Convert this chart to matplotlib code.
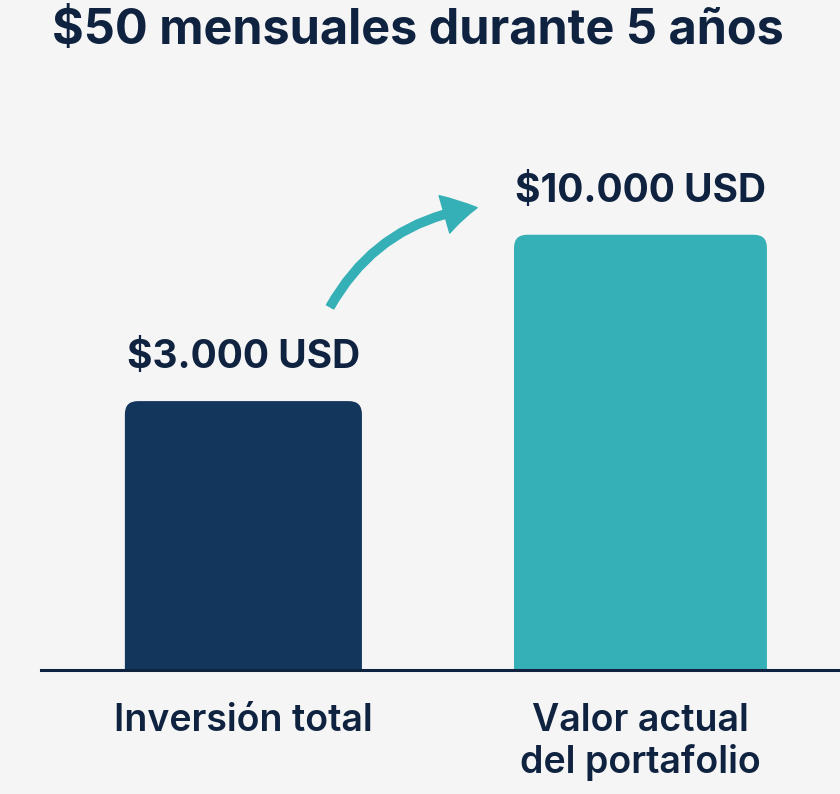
import numpy as np
import matplotlib
matplotlib.use("Agg")
import matplotlib.pyplot as plt
from matplotlib.patches import FancyBboxPatch, FancyArrowPatch
from matplotlib.transforms import IdentityTransform

# data
categories = ["Inversión total", "Valor actual\ndel portafolio"]
values = [3000, 10000]
value_labels = ["$3.000 USD", "$10.000 USD"]
title = "$50 mensuales durante 5 años"

# style
BG = "#f5f5f5"
INK = "#0f2340"
bar_colors = ["#12365c", "#35b0b6"]
bar_widths = [0.597, 0.637]
plt.rcParams["font.family"] = ["Inter", "DejaVu Sans"]

# the picture is not to a linear scale: a compressed (power) scale
P = 0.4


def fwd(v):
    v = np.asarray(v, dtype=float)
    return np.sign(v) * np.abs(v) ** P


def inv(v):
    v = np.asarray(v, dtype=float)
    return np.sign(v) * np.abs(v) ** (1 / P)


fig = plt.figure(figsize=(8.4, 7.94), dpi=100, facecolor=BG)
ax = fig.add_axes([0, 124 / 794, 1, 670 / 794])
ax.set_facecolor("none")
ax.set_yscale("function", functions=(fwd, inv))
ax.set_xlim(-0.613, 1.5025)
ax.set_ylim(0, 29400)

x = np.arange(len(values))
bars = ax.bar(x, values, width=bar_widths, color=bar_colors)

for s in ax.spines.values():
    s.set_visible(False)
ax.tick_params(length=0, pad=24)
ax.set_yticks([])
ax.set_xticks(x, categories, fontsize=27, fontweight="semibold", color=INK,
              linespacing=1.15)

ax.axhline(0, xmin=41 / 840, xmax=1, color=INK, lw=2.2, zorder=5,
           clip_on=False)

for xi, v, lab in zip(x, values, value_labels):
    ax.annotate(lab, (xi, v), xytext=(0, 18), textcoords="offset points",
                ha="center", va="bottom", fontsize=28, fontweight="bold",
                color=INK)

fig.suptitle(title, x=0.497, y=0.99, va="top", fontsize=35,
             fontweight="bold", color=INK)

# rounded tops: replace each bar with a rounded box of the same extent
fig.canvas.draw()
for b in bars:
    ext = b.get_window_extent()
    r = 13
    box = FancyBboxPatch((ext.x0, ext.y0 - 2 * r), ext.width,
                         ext.height + 2 * r,
                         boxstyle=f"round,pad=0,rounding_size={r}",
                         facecolor=b.get_facecolor(), edgecolor="none",
                         transform=IdentityTransform())
    ax.add_patch(box)
    box.set_transform(IdentityTransform())
    b.set_visible(False)

# curved growth arrow between the two bars
arrow = FancyArrowPatch((0.393, 0.542), (0.568, 0.69),
                        transform=ax.transAxes,
                        connectionstyle="arc3,rad=-0.25",
                        arrowstyle="simple,head_length=1.2,head_width=1.4,tail_width=0.3",
                        mutation_scale=20, color=bar_colors[1],
                        shrinkA=0, shrinkB=0)
ax.add_patch(arrow)

fig.savefig("out.png", dpi=100, facecolor=BG)
